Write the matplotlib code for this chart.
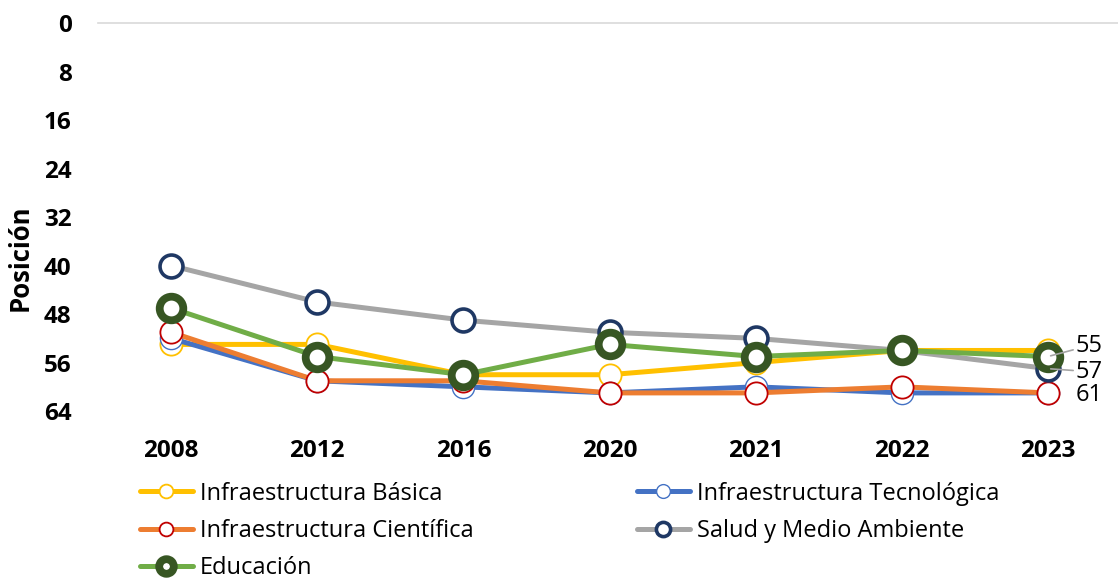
import matplotlib.pyplot as plt
import numpy as np

plt.rcParams['font.family'] = ['Open Sans', 'DejaVu Sans']

years = ['2008', '2012', '2016', '2020', '2021', '2022', '2023']
basica = [53, 53, 58, 58, 56, 54, 54]
tecnologica = [52, 59, 60, 61, 60, 61, 61]
cientifica = [51, 59, 59, 61, 61, 60, 61]
salud = [40, 46, 49, 51, 52, 54, 57]
educacion = [47, 55, 58, 53, 55, 54, 55]

series = [
    ('Infraestructura Básica', basica, '#FFC000', '#FFC000', 1.3, 16),
    ('Infraestructura Tecnológica', tecnologica, '#4472C4', '#4472C4', 1.0, 16),
    ('Infraestructura Científica', cientifica, '#ED7D31', '#C00000', 1.3, 16),
    ('Salud y Medio Ambiente', salud, '#A5A5A5', '#1F3864', 2.6, 16.5),
    ('Educación', educacion, '#70AD47', '#375623', 5.6, 17),
]

fig = plt.figure(figsize=(11.18, 5.79), dpi=100)
ax = fig.add_axes([0.0877, 0.29, 0.915, 0.67])
x = np.arange(len(years))

lines = []
for name, vals, lc, mc, mew, ms in series:
    ln, = ax.plot(x, vals, color=lc, lw=3.6, marker='o', ms=ms, mfc='white',
                  mec=mc, mew=mew, label=name, solid_capstyle='round')
    lines.append(ln)

ax.set_ylim(64, 0)
ax.set_xlim(-0.5, 6.5)
ax.set_yticks(np.arange(0, 65, 8))
ax.set_xticks(x)
ax.set_xticklabels(years)
ax.tick_params(length=0, labelsize=17.5)
ax.tick_params(axis='y', pad=19)
ax.tick_params(axis='x', pad=20)
for t in ax.get_xticklabels() + ax.get_yticklabels():
    t.set_fontweight('bold')
for s in ['left', 'right', 'bottom']:
    ax.spines[s].set_visible(False)
ax.spines['top'].set_color('#D9D9D9')
ax.spines['top'].set_linewidth(1.2)
ax.set_ylabel('Posición', fontsize=18.5, fontweight='bold')
ax.yaxis.set_label_coords(-0.063, 0.394)

# value labels on the last year
last = len(years) - 1
ax.annotate(str(educacion[last]), (last, educacion[last]), xytext=(28, 11),
            textcoords='offset pixels', va='center', fontsize=17,
            arrowprops=dict(arrowstyle='-', color='#A5A5A5', lw=1.2,
                            shrinkA=0, shrinkB=2))
ax.annotate(str(salud[last]), (last, salud[last]), xytext=(28, -3),
            textcoords='offset pixels', va='center', fontsize=17,
            arrowprops=dict(arrowstyle='-', color='#A5A5A5', lw=1.2,
                            shrinkA=0, shrinkB=2))
ax.annotate(str(cientifica[last]), (last, cientifica[last]), xytext=(28, -2),
            textcoords='offset pixels', va='center', fontsize=17)

# legend filled row by row: column-major order for ncol=2
order = [0, 2, 4, 1, 3]
fig.legend([lines[i] for i in order], [series[i][0] for i in order],
           loc='upper left', bbox_to_anchor=(0.125, 0.168), ncol=2,
           frameon=False, fontsize=17, handlelength=2.25, handletextpad=0.3,
           columnspacing=6.9, labelspacing=0.56, borderaxespad=0,
           borderpad=0, markerscale=0.62)

plt.savefig('out.png', dpi=100)
